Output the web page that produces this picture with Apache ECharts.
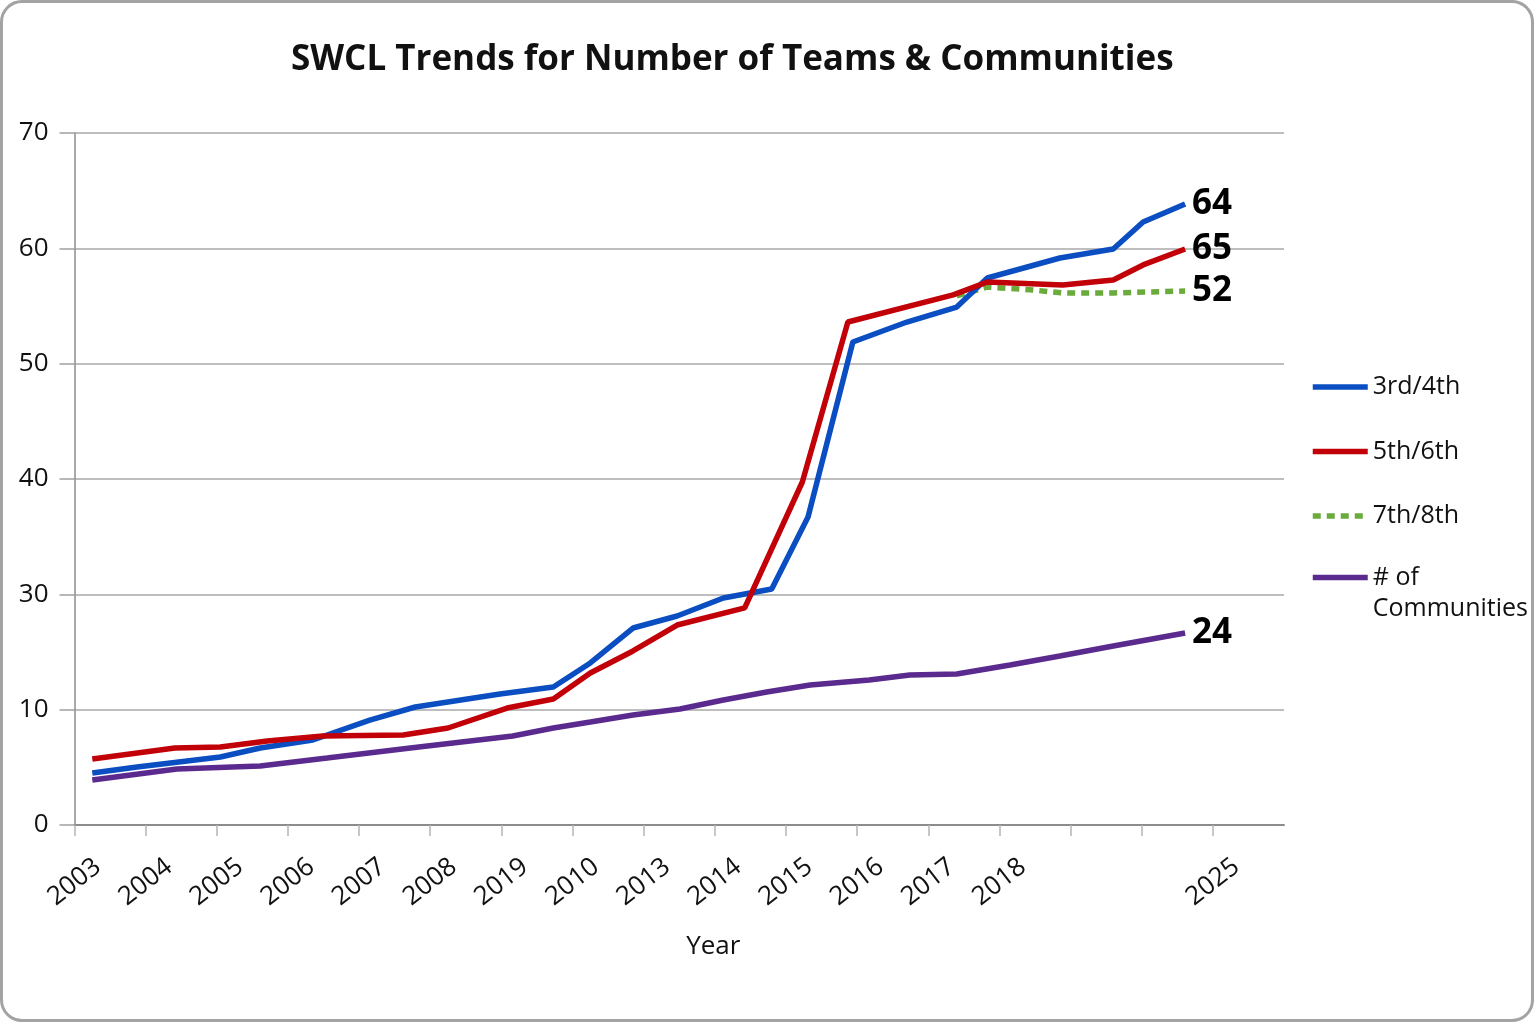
<!DOCTYPE html>
<html>
<head>
<meta charset="utf-8">
<script src="https://cdn.jsdelivr.net/npm/echarts@6/dist/echarts.min.js"></script>
<style>
  html, body { margin: 0; padding: 0; background: #fff; }
  #wrap { position: relative; width: 1536px; height: 1024px; overflow: hidden; }
  #chart { position: absolute; left: 0; top: 0; width: 1536px; height: 1024px; }
  #frame { position: absolute; left: 0; top: 0; width: 1534px; height: 1022px; box-sizing: border-box;
           border: 3px solid #a3a3a3; border-radius: 22px; pointer-events: none; }
</style>
</head>
<body>
<div id="wrap"><div id="chart"></div><div id="frame"></div></div>
<script>
// ---- data ----
const xTickLabels = ['2003','2004','2005','2006','2007','2008','2019','2010','2013','2014','2015','2016','2017','2018','','','2025'];
const yTickLabels = ['0','10','30','40','50','60','70'];
const seriesNames = ['3rd/4th','5th/6th','7th/8th','# of Communities'];
const endLabels = ['64','65','52','24'];

// x positions are in tick-index units of the year axis; y values in gridline-step units (10 per gridline)
const pos34   = [0.25,0.88,2.05,2.61,3.35,4.15,4.79,5.98,6.73,7.25,7.85,8.47,9.12,9.80,10.31,10.94,11.70,12.40,12.83,13.85,14.60,15.02,15.61];
const teams34 = [4.51,5.03,5.90,6.68,7.37,9.10,10.23,11.36,11.97,14.05,17.08,18.12,19.68,20.46,26.71,41.88,43.61,44.91,47.43,49.16,49.94,52.28,53.85];

const pos56   = [0.25,1.41,2.05,2.71,3.49,4.62,5.25,6.08,6.73,7.25,7.85,8.47,9.42,10.23,10.87,12.35,12.83,13.89,14.60,15.02,15.61];
const teams56 = [5.72,6.68,6.76,7.28,7.72,7.80,8.41,10.14,10.93,13.18,15.09,17.34,18.82,29.74,43.61,45.96,47.08,46.82,47.26,48.56,49.94];

const pos78   = [12.40,12.83,13.47,13.89,14.60,15.61];
const teams78 = [45.87,46.65,46.39,46.13,46.13,46.30];

const posCom  = [0.25,1.44,2.61,3.55,4.72,6.16,6.73,7.25,7.85,8.51,9.12,9.73,10.34,11.17,11.74,12.40,13.15,13.85,14.60,15.61];
const communities = [3.90,4.86,5.12,5.81,6.68,7.72,8.41,8.93,9.54,10.06,10.84,11.53,12.14,12.57,13.01,13.09,13.87,14.65,15.52,16.65];

const colors = ['#0a4ec2','#c20008','#6aab3c','#5b2a8e'];

function pairs(xs, ys) { return xs.map((x, i) => [x, ys[i]]); }
const seriesData = [pairs(pos34, teams34), pairs(pos56, teams56), pairs(pos78, teams78), pairs(posCom, communities)];

const FONT = '"Open Sans", "Noto Sans", sans-serif';
const tickIdx = xTickLabels.map((_, i) => i);

const chart = echarts.init(document.getElementById('chart'), null, { renderer: 'canvas' });

const series = seriesNames.map((name, i) => ({
  name: name,
  type: 'line',
  data: seriesData[i],
  symbol: 'none',
  smooth: false,
  z: i === 2 ? 1 : 3,
  lineStyle: { color: colors[i], width: 5.5, type: i === 2 ? [8, 6] : 'solid', cap: 'butt' },
  itemStyle: { color: colors[i] },
  endLabel: {
    show: true,
    formatter: () => endLabels[i],
    fontFamily: FONT,
    fontSize: 35,
    fontWeight: 'bold',
    color: '#000',
    distance: 7
  },
  emphasis: { disabled: true },
  animation: false
}));

const legendText = { fontFamily: FONT, fontSize: 25, color: '#111', lineHeight: 31 };

const option = {
  animation: false,
  backgroundColor: '#fff',
  title: {
    text: 'SWCL Trends for Number of Teams & Communities',
    left: 291,
    top: 40,
    padding: 0,
    textStyle: { fontFamily: FONT, fontSize: 35, fontWeight: 'bold', color: '#111', lineHeight: 40 }
  },
  grid: { left: 74.5, right: 252, top: 133, bottom: 199, containLabel: false },
  legend: [
    {
      data: seriesNames.slice(0, 3),
      orient: 'vertical',
      left: 1310,
      top: 371.5,
      padding: 0,
      itemWidth: 55,
      itemHeight: 14,
      itemGap: 33.5,
      itemStyle: { opacity: 0 },
      lineStyle: { width: 5.5 },
      textStyle: legendText
    },
    {
      data: [seriesNames[3]],
      orient: 'vertical',
      left: 1310,
      top: 531,
      padding: 0,
      itemWidth: 55,
      itemHeight: 14,
      itemStyle: { opacity: 0 },
      lineStyle: { width: 5.5 },
      formatter: () => '\n# of\nCommunities',
      textStyle: legendText
    }
  ],
  xAxis: {
    type: 'value',
    min: 0,
    max: 17,
    interval: 1,
    name: 'Year',
    nameLocation: 'middle',
    nameGap: 109,
    nameTextStyle: { fontFamily: FONT, fontSize: 26, color: '#111', padding: [0, 0, 0, 68] },
    axisLine: { show: true, onZero: false, lineStyle: { color: '#8c8c8c', width: 2 } },
    axisTick: { show: true, length: 11, customValues: tickIdx, lineStyle: { color: '#b5b5b5', width: 1.5 } },
    axisLabel: {
      customValues: tickIdx,
      formatter: (v) => xTickLabels[Math.round(v)] || '',
      rotate: 38,
      align: 'center',
      verticalAlign: 'middle',
      margin: 57,
      fontFamily: FONT,
      fontSize: 26,
      color: '#111'
    },
    splitLine: { show: false }
  },
  yAxis: {
    type: 'value',
    min: 0,
    max: 60,
    interval: 10,
    axisLine: { show: true, lineStyle: { color: '#8c8c8c', width: 1.5 } },
    axisTick: { show: true, length: 15, lineStyle: { color: '#a0a0a0', width: 1.5 } },
    axisLabel: {
      formatter: (v) => yTickLabels[Math.round(v / 10)],
      margin: 26,
      fontFamily: FONT,
      fontSize: 26,
      color: '#111'
    },
    splitLine: { show: true, lineStyle: { color: '#a8a8a8', width: 1.5 } }
  },
  series: series
};

chart.setOption(option);
</script>
</body>
</html>
